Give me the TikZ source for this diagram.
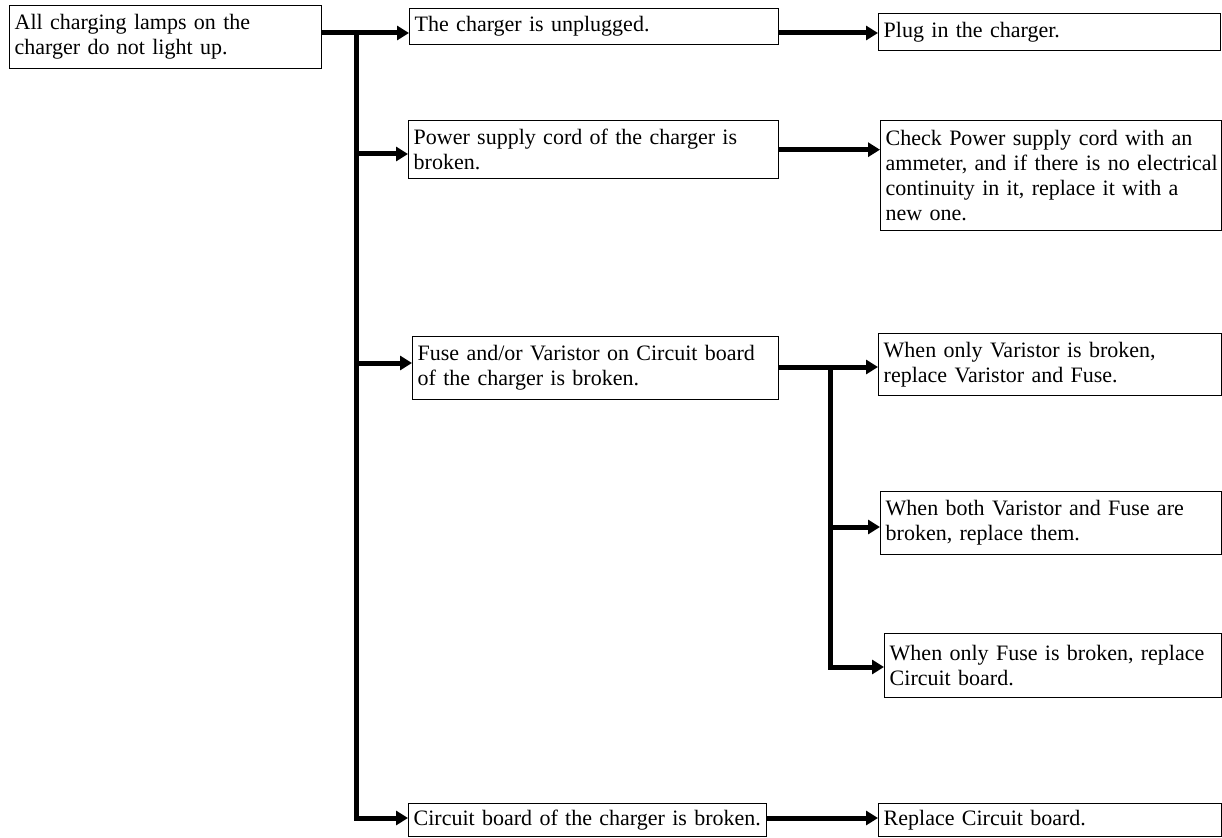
\documentclass[tikz,border=0pt]{standalone}
\usepackage{fontspec}
\setmainfont{Liberation Serif}
\usetikzlibrary{arrows.meta}
% keep every word whole inside the boxes
\hyphenpenalty=10000
\exhyphenpenalty=10000
\begin{document}
\begin{tikzpicture}[x=1pt,y=-1pt,
  box/.style={draw, line width=1.4pt, anchor=north west, inner xsep=5pt,
    inner ysep=0pt, align=left, font=\fontsize{22}{25}\selectfont},
  conn/.style={line width=5pt},
  arr/.style={conn, -{Triangle[length=12pt,width=14pt]}}]
\useasboundingbox (0,0) rectangle (1222,837);
\fill[white] (0,0) rectangle (1222,837);

% symptom
\node[box, minimum width=312pt, minimum height=63pt, text width=302pt] (root) at (9,5)
  {All charging lamps on the\\charger do not light up.};

% causes
\node[box, minimum width=369pt, minimum height=36pt, text width=359pt] (A) at (409,8)
  {The charger is unplugged.};
\node[box, minimum width=370pt, minimum height=58pt, text width=360pt] (B) at (408,120)
  {Power supply cord of the charger is\\broken.};
\node[box, minimum width=366pt, minimum height=63pt, text width=356pt] (C) at (412,336)
  {Fuse and/or Varistor on Circuit board\\of the charger is broken.};
\node[box, minimum width=358pt, minimum height=33pt, text width=348pt] (D) at (408,803)
  {Circuit board of the charger is broken.};

% remedies
\node[box, minimum width=342pt, minimum height=37pt, text width=332pt] (A2) at (878,13)
  {Plug in the charger.};
\node[box, minimum width=341pt, minimum height=110pt, inner xsep=2pt, text width=337pt] (B2) at (880,120)
  {\hspace*{3pt}Check Power supply cord with an\\
   \hspace*{3pt}ammeter, and if there is no electrical\\
   \hspace*{3pt}continuity in it, replace it with a\\
   \hspace*{3pt}new one.};
\node[box, minimum width=343pt, minimum height=62pt, text width=333pt] (C1) at (878,333)
  {When only Varistor is broken,\\replace Varistor and Fuse.};
\node[box, minimum width=341pt, minimum height=63pt, text width=331pt] (C2) at (880,491)
  {When both Varistor and Fuse are\\broken, replace them.};
\node[box, minimum width=337pt, minimum height=64pt, text width=327pt] (C3) at (884,633)
  {When only Fuse is broken, replace\\Circuit board.};
\node[box, minimum width=343pt, minimum height=33pt, text width=333pt] (D2) at (878,803)
  {Replace Circuit board.};

% main trunk
\coordinate (t0) at (356,33);
\coordinate (tB) at (356,154);
\coordinate (tC) at (356,363);
\coordinate (t3) at (356,818);
\draw[arr] (root.east |- t0) -- (A.west |- t0);
\draw[arr] (t0) -- (t3) -- (D.west |- t3);
\draw[arr] (tB) -- (B.west |- tB);
\draw[arr] (tC) -- (C.west |- tC);

% cause to remedy
\draw[arr] (A.east |- t0) -- (A2.west |- t0);
\draw[arr] (B.east) -- (B2.west |- B.east);
\draw[arr] (D.east |- t3) -- (D2.west |- t3);

% fuse / varistor sub-branches
\coordinate (k0) at (830,367);
\coordinate (k2) at (830,527);
\coordinate (k3) at (830,667);
\draw[arr] (C.east |- k0) -- (C1.west |- k0);
\draw[arr] (k0) -- (k3) -- (C3.west |- k3);
\draw[arr] (k2) -- (C2.west |- k2);
\end{tikzpicture}
\end{document}
